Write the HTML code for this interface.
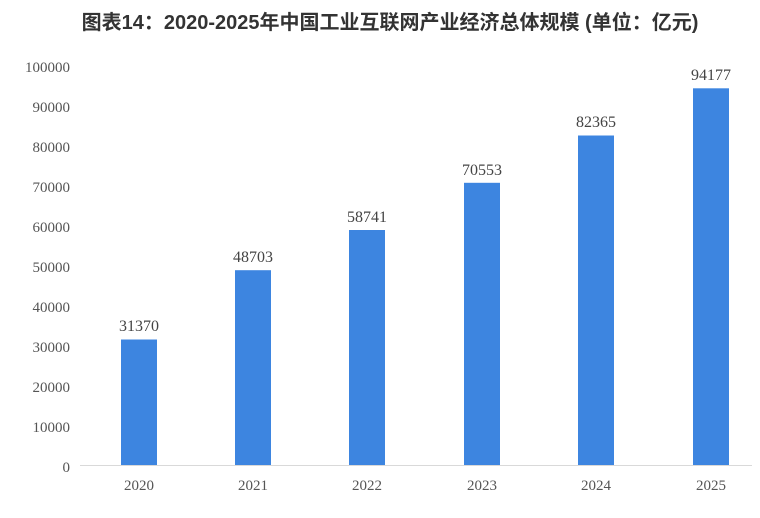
<!DOCTYPE html>
<html><head><meta charset="utf-8"><style>
body{margin:0;background:#fff;}
svg text{font-family:"Liberation Sans","Noto Sans CJK SC",sans-serif;}
svg .s{font-family:"Liberation Serif","DejaVu Serif",serif;}
</style></head><body>
<svg width="760" height="513" xmlns="http://www.w3.org/2000/svg">
<rect width="760" height="513" fill="#fff"/>
<text x="390" y="29" text-anchor="middle" font-size="20" font-weight="bold" fill="#333">图表14：2020-2025年中国工业互联网产业经济总体规模 (单位：亿元)</text>
<g class="s" font-size="15" fill="#555" text-anchor="end">
<text class="s" x="70" y="72">100000</text><text class="s" x="70" y="112">90000</text><text class="s" x="70" y="152">80000</text>
<text class="s" x="70" y="192">70000</text><text class="s" x="70" y="232">60000</text><text class="s" x="70" y="272">50000</text>
<text class="s" x="70" y="312">40000</text><text class="s" x="70" y="352">30000</text><text class="s" x="70" y="392">20000</text>
<text class="s" x="70" y="432">10000</text><text class="s" x="70" y="472">0</text>
</g>
<line x1="80" y1="465.5" x2="752" y2="465.5" stroke="#d9d9d9" stroke-width="1"/>
<g fill="#3d85e0">
<rect x="121" y="339.5" width="36" height="125.5"/>
<rect x="235" y="270.2" width="36" height="194.8"/>
<rect x="349" y="230" width="36" height="235"/>
<rect x="464" y="182.8" width="36" height="282.2"/>
<rect x="578" y="135.5" width="36" height="329.5"/>
<rect x="693" y="88.3" width="36" height="376.7"/>
</g>
<g font-size="16" fill="#444" text-anchor="middle">
<text class="s" x="139" y="331">31370</text><text class="s" x="253" y="262">48703</text><text class="s" x="367" y="222">58741</text>
<text class="s" x="482" y="175">70553</text><text class="s" x="596" y="127">82365</text><text class="s" x="711" y="80">94177</text>
</g>
<g font-size="15" fill="#555" text-anchor="middle">
<text class="s" x="139" y="490">2020</text><text class="s" x="253" y="490">2021</text><text class="s" x="367" y="490">2022</text>
<text class="s" x="482" y="490">2023</text><text class="s" x="596" y="490">2024</text><text class="s" x="711" y="490">2025</text>
</g>
</svg>
</body></html>
